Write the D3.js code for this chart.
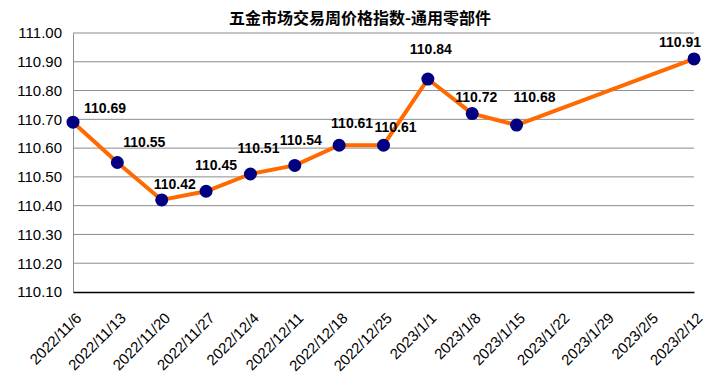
<!DOCTYPE html>
<html>
<head>
<meta charset="utf-8">
<script src="https://cdn.jsdelivr.net/npm/d3@7"></script>
<style>
    body { margin: 0; background: #fff; }
    svg { display: block; font-family: "Liberation Sans", Arial, sans-serif; }
</style>
</head>
<body>
<svg id="chart"></svg>
<script>
// categories (weeks) and index values; null = no data that week
const weeks = ["2022/11/6", "2022/11/13", "2022/11/20", "2022/11/27", "2022/12/4",
    "2022/12/11", "2022/12/18", "2022/12/25", "2023/1/1", "2023/1/8", "2023/1/15",
    "2023/1/22", "2023/1/29", "2023/2/5", "2023/2/12"];
const values = [110.69, 110.55, 110.42, 110.45, 110.51, 110.54, 110.61, 110.61,
    110.84, 110.72, 110.68, null, null, null, 110.91];
const yTicks = [110.1, 110.2, 110.3, 110.4, 110.5, 110.6, 110.7, 110.8, 110.9, 111.0];

// label nudges (dx, dy) so they sit like the original
const labelDx = [32, 27, 13, 10, 8, 6, 13, 12, 3, 4, 18, 0, 0, 0, -14];
const labelDy = [-9, -16, -11, -21, -21, -20, -17, -13, -25, -12, -23, 0, 0, 0, -12];

const width = 705, height = 382;
const margin = { top: 33, right: 11, bottom: 90, left: 73 };

const svg = d3.select("#chart")
    .attr("width", width)
    .attr("height", height);

const x = d3.scalePoint()
    .domain(weeks)
    .range([margin.left, width - margin.right]);

const y = d3.scaleLinear()
    .domain([110.1, 111.0])
    .range([height - margin.bottom, margin.top]);

// title
svg.append("text")
    .attr("x", 360)
    .attr("y", 24)
    .attr("text-anchor", "middle")
    .attr("font-family", "'Noto Sans CJK SC', sans-serif")
    .attr("font-size", "16px")
    .attr("font-weight", "bold")
    .text("五金市场交易周价格指数-通用零部件");

// gridlines
svg.append("g")
    .selectAll("line")
    .data(yTicks.slice(1))
    .enter().append("line")
    .attr("x1", margin.left)
    .attr("x2", width - margin.right)
    .attr("y1", d => y(d))
    .attr("y2", d => y(d))
    .attr("stroke", "#8c8c8c")
    .attr("stroke-width", 1);

// y axis
const yAxis = svg.append("g")
    .attr("transform", `translate(${margin.left},0)`)
    .call(d3.axisLeft(y).tickValues(yTicks).tickFormat(d3.format(".2f")).tickSize(0).tickPadding(11));
yAxis.select(".domain").attr("stroke", "#8c8c8c");
yAxis.selectAll("text")
    .attr("font-family", "'Liberation Sans', Arial, sans-serif")
    .attr("font-size", "15px")
    .attr("fill", "#000");

// x axis
const xAxis = svg.append("g")
    .attr("transform", `translate(0,${height - margin.bottom})`)
    .call(d3.axisBottom(x).tickSize(0).tickPadding(0));
xAxis.select(".domain").attr("stroke", "#000").attr("stroke-width", 1.5);
xAxis.selectAll("text")
    .attr("font-family", "'Liberation Sans', Arial, sans-serif")
    .attr("font-size", "15px")
    .attr("fill", "#000")
    .attr("text-anchor", "end")
    .attr("dy", 0)
    .attr("transform", "translate(9,27) rotate(-45)");

// line (skips the empty weeks)
const pts = weeks.map((w, i) => ({ w, v: values[i], i })).filter(d => d.v !== null);

svg.append("path")
    .datum(pts)
    .attr("fill", "none")
    .attr("stroke", "#ff6a00")
    .attr("stroke-width", 4)
    .attr("stroke-linejoin", "round")
    .attr("d", d3.line().x(d => x(d.w)).y(d => y(d.v)));

svg.selectAll(".dot")
    .data(pts)
    .enter().append("circle")
    .attr("class", "dot")
    .attr("cx", d => x(d.w))
    .attr("cy", d => y(d.v))
    .attr("r", 6.5)
    .attr("fill", "#000080");

svg.selectAll(".label")
    .data(pts)
    .enter().append("text")
    .attr("class", "label")
    .attr("x", d => x(d.w) + labelDx[d.i])
    .attr("y", d => y(d.v) + labelDy[d.i])
    .attr("text-anchor", "middle")
    .attr("font-size", "14px")
    .attr("font-weight", "bold")
    .attr("fill", "#000")
    .text(d => d.v.toFixed(2));
</script>
</body>
</html>
